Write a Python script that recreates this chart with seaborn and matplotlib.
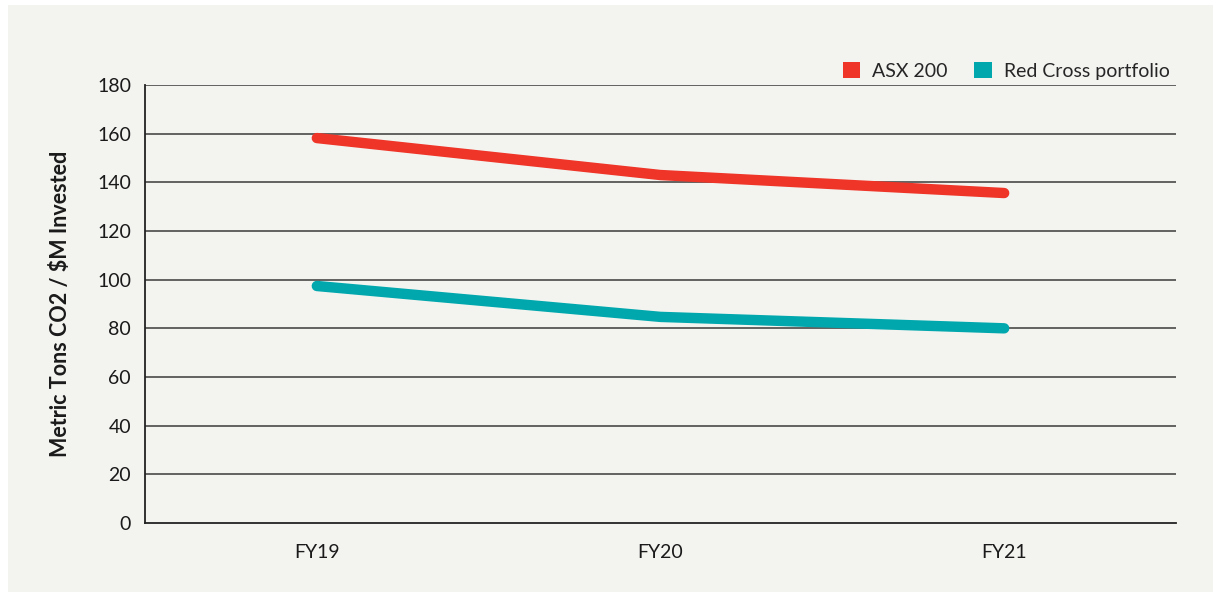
import matplotlib
matplotlib.use("Agg")
import matplotlib.pyplot as plt
from matplotlib.patches import Patch, Rectangle
import seaborn as sns
import pandas as pd

# Emissions intensity by financial year
years = ["FY19", "FY20", "FY21"]
asx200 = [158.2, 143.0, 135.6]
red_cross = [97.4, 84.7, 80.0]
series_names = ["ASX 200", "Red Cross portfolio"]
y_ticks = [0, 20, 40, 60, 80, 100, 120, 140, 160, 180]

colors = {"ASX 200": "#ef3428", "Red Cross portfolio": "#00a7ad"}
panel_bg = "#f3f4f0"

df = pd.DataFrame({
    "year": years * 2,
    "value": asx200 + red_cross,
    "series": [series_names[0]] * len(years) + [series_names[1]] * len(years),
})
df["pos"] = df["year"].map({y: i for i, y in enumerate(years)})

sns.set_theme(style="white")
plt.rcParams["font.family"] = ["Lato", "DejaVu Sans"]

fig = plt.figure(figsize=(12.16, 5.95), dpi=100, facecolor="white")
# light panel behind the chart
fig.patches.append(Rectangle((8 / 1216, 3 / 595), 1205 / 1216, 587 / 595,
                             transform=fig.transFigure, facecolor=panel_bg,
                             edgecolor="none", zorder=-10))

ax = fig.add_axes([145 / 1216, 1 - 523 / 595, (1176 - 145) / 1216, (523 - 85) / 595])
ax.set_zorder(1)
ax.set_facecolor(panel_bg)

for y in y_ticks[1:]:
    ax.axhline(y, color="#3a3a3a", lw=1.1, zorder=1)

sns.lineplot(data=df, x="pos", y="value", hue="series", palette=colors,
             linewidth=7.5, ax=ax, legend=False, zorder=3,
             solid_capstyle="round", solid_joinstyle="round")

ax.set_xlim(-0.5, 2.5)
ax.set_ylim(0, 180)
ax.set_xticks(range(len(years)))
ax.set_xticklabels(years)
ax.set_yticks(y_ticks)
ax.tick_params(axis="both", length=0, labelsize=14, colors="#1a1a1a")
ax.tick_params(axis="x", pad=15)
ax.tick_params(axis="y", pad=10)
ax.set_xlabel("")
ax.set_ylabel("Metric Tons CO2 / $M Invested", fontsize=15.5, fontweight="bold",
              color="#1a1a1a", labelpad=19)

for side in ["top", "right"]:
    ax.spines[side].set_visible(False)
for side in ["left", "bottom"]:
    ax.spines[side].set_color("#222222")
    ax.spines[side].set_linewidth(1.3)

handles = [Patch(facecolor=colors[n], edgecolor="none", label=n) for n in series_names]
ax.legend(handles=handles, loc="lower right", bbox_to_anchor=(1.005, 0.985), ncol=2,
          frameon=False, fontsize=14, handlelength=0.9, handleheight=0.9,
          handletextpad=0.6, columnspacing=1.4, borderaxespad=0.2)

fig.savefig("out.png", dpi=100, facecolor="white")
